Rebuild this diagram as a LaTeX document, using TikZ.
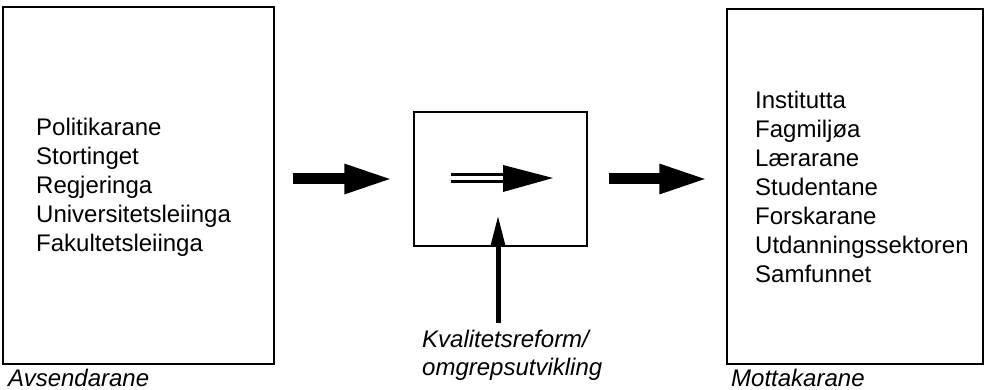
\documentclass[tikz,border=0pt]{standalone}
\usepackage{fontspec}
\setmainfont{Liberation Sans}
\usetikzlibrary{arrows.meta}

\begin{document}
\begin{tikzpicture}[x=1pt, y=-1pt, line join=miter,
  box/.style={draw, line width=1.2pt, inner sep=0pt},
  liste/.style={anchor=north west, align=left, inner sep=0pt, font=\fontsize{24}{29}\selectfont},
  namn/.style={anchor=base west, inner sep=0pt, font=\fontsize{24}{28}\selectfont\itshape},
  bigarrow/.style={line width=11pt, -{Triangle[length=49pt, width=27pt]}}]

\useasboundingbox (0,0) rectangle (986,390);

% Boxes
\node[box, minimum width=271pt, minimum height=357pt] (avs) at (138.5,185.5) {};
\node[box, minimum width=173pt, minimum height=134pt] (mid) at (500.5,179) {};
\node[box, minimum width=256pt, minimum height=355pt] (mot) at (855,186.5) {};

% Lists in the boxes
\node[liste] (avslist) at (36,118) {Politikarane\\ Stortinget\\ Regjeringa\\ Universitetsleiinga\\ Fakultetsleiinga};
\node[liste] (motlist) at (755,91) {Institutta\\ Fagmiljøa\\ Lærarane\\ Studentane\\ Forskarane\\ Utdanningssektoren\\ Samfunnet};

% Names under the boxes
\node[namn] (avsnamn) at (8,386) {Avsendarane};
\node[namn] (motnamn) at (731,386) {Mottakarane};
\node[namn, align=left] (reform) at (422,375) {Kvalitetsreform/\\ omgrepsutvikling};

% Arrows between the boxes
\draw[bigarrow, shorten <=18pt, shorten >=20pt] (avs.east |- mid.west) -- (mid.west);
\draw[bigarrow, shorten <=21pt, shorten >=18pt] (mid.east) -- (mot.west |- mid.east);

% Double arrow in the middle box
\coordinate (dstart) at (451,178);
\coordinate (dend) at (505,178);
\coordinate (dtip) at (553,178);
\draw[double, double distance=4pt, line width=3pt] (dstart) -- (dend);
\fill (503,165) -- (dtip) -- (503,192) -- cycle;

% Arrow from below
\coordinate (reftop) at (498,323);
\draw[line width=5pt, -{Triangle[length=32pt, width=14pt]}] (reftop) -- (498,215);

\end{tikzpicture}
\end{document}
